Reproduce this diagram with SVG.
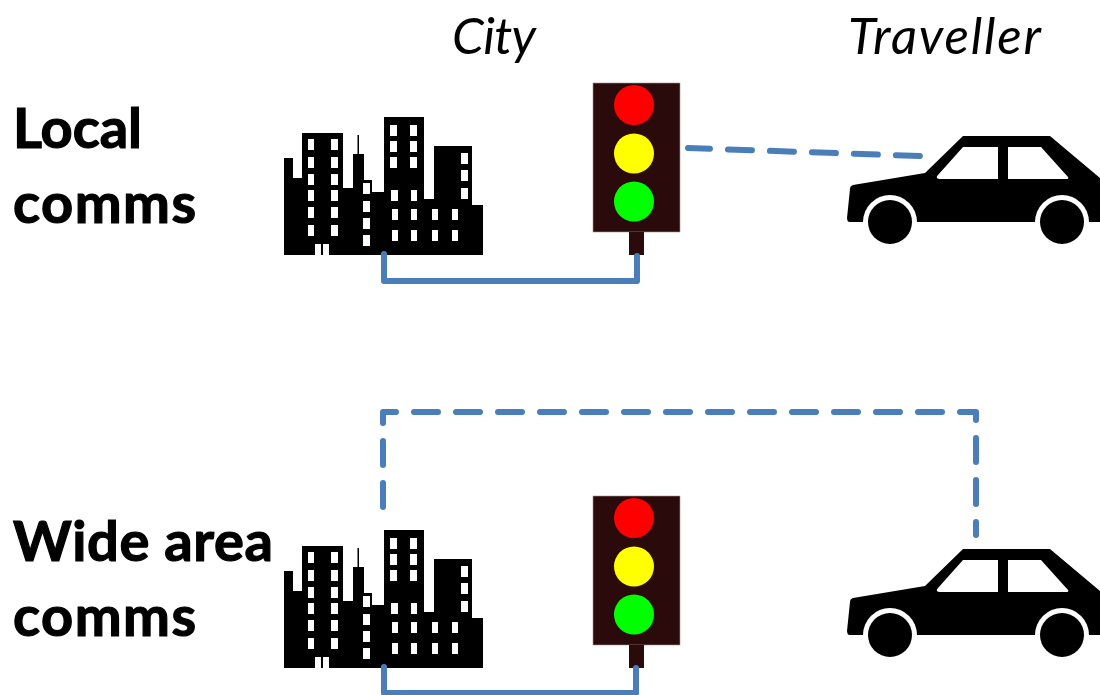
<svg xmlns="http://www.w3.org/2000/svg" width="1100" height="695" viewBox="0 0 1100 695">
<style>
.h{font-family:"Lato","Liberation Sans",sans-serif;font-style:italic;font-size:51px;fill:#000}
.l{font-family:"Lato","Liberation Sans",sans-serif;font-weight:700;font-size:56px;fill:#000;stroke:#000;stroke-width:1.200px}
.c{fill:none;stroke:#4a7ebb;stroke-width:6;stroke-linecap:round;stroke-linejoin:round}
.d{stroke-dasharray:24 18}
.w{fill:#fff}
.t{fill:#2a0a0a;stroke:#a89090;stroke-width:.6}
</style>
<defs>
<g id="city">
<path d="M284 255V158H293V178H302V133H343V188H353V154H357.500V135H359V154H364V180H372V192H384V117H424V199H434V146H472V205H483V255Z"/>
<g class="w">
<path d="M308 139h6v11h-6zM308 157h6v11h-6zM308 174h6v11h-6zM308 190h6v11h-6zM308 207h6v11h-6zM308 225h6v11h-6zM331 139h7v11h-7zM331 157h7v11h-7zM331 174h7v11h-7zM331 190h7v11h-7zM331 207h7v11h-7zM331 225h7v11h-7z"/>
<path d="M363 183h7v11h-7zM363 201h7v11h-7zM363 218h7v11h-7zM363 235h7v11h-7z"/>
<path d="M390 125h7v11h-7zM390 141h7v11h-7zM390 157h7v11h-7zM410 125h7v11h-7zM410 141h7v11h-7zM410 157h7v11h-7zM391 190h7v11h-7zM411 190h6v11h-6z"/>
<path d="M392 209h6v11h-6zM411 209h6v11h-6zM432 209h6v11h-6zM452 209h6v11h-6zM392 230h6v11h-6zM411 230h6v11h-6zM432 230h6v11h-6zM452 230h6v11h-6z"/>
<path d="M461 153h7v11h-7zM461 170h7v11h-7zM461 188h7v11h-7zM315 244h6v11h-6zM323 244h6v11h-6z"/>
</g>
</g>
<g id="light">
<rect class="t" x="593" y="83" width="87" height="149"/>
<rect x="629" y="232" width="15" height="23" fill="#2a0a0a"/>
<circle cx="634" cy="105" r="20" fill="#f00"/>
<circle cx="634" cy="153.500" r="20" fill="#ff0"/>
<circle cx="634" cy="201.500" r="20" fill="#0f0"/>
</g>
<g id="car">
<path d="M963 136H1050L1100 178V222H849Q847 221 847 218L850 189Q850 186 853 185L925 173Z"/>
<circle cx="890" cy="222" r="27" class="w"/>
<circle cx="1062" cy="222" r="27" class="w"/>
<circle cx="890" cy="222" r="22"/>
<circle cx="1062" cy="222" r="22"/>
<path class="w" d="M963 147H998V179H939Q935 178 938 175ZM1008 147H1041L1068 177Q1069 179 1067 179H1008Z"/>
</g>
</defs>
<text class="h" x="452" y="54" textLength="84" lengthAdjust="spacing">City</text>
<text class="h" x="848" y="54" textLength="193" lengthAdjust="spacing">Traveller</text>
<text class="l" x="13" y="148" textLength="129" lengthAdjust="spacing">Local</text>
<text class="l" x="13" y="223" textLength="183" lengthAdjust="spacing">comms</text>
<text class="l" x="13" y="561" textLength="260" lengthAdjust="spacing">Wide area</text>
<text class="l" x="13" y="636" textLength="183" lengthAdjust="spacing">comms</text>
<g id="city-local"><use href="#city"/></g>
<g id="light-local"><use href="#light"/></g>
<g id="car-local"><use href="#car"/></g>
<g id="city-wide"><use href="#city" y="413"/></g>
<g id="light-wide"><use href="#light" y="413"/></g>
<g id="car-wide"><use href="#car" y="413"/></g>
<g id="connectors">
<path class="c" d="M384 254V281H637V256"/>
<path class="c d" stroke-dashoffset="2" d="M688 148L920 156"/>
<path class="c d" d="M383 507V412H976V535"/>
<path class="c" d="M384 667V693H636V668"/>
</g>
</svg>
